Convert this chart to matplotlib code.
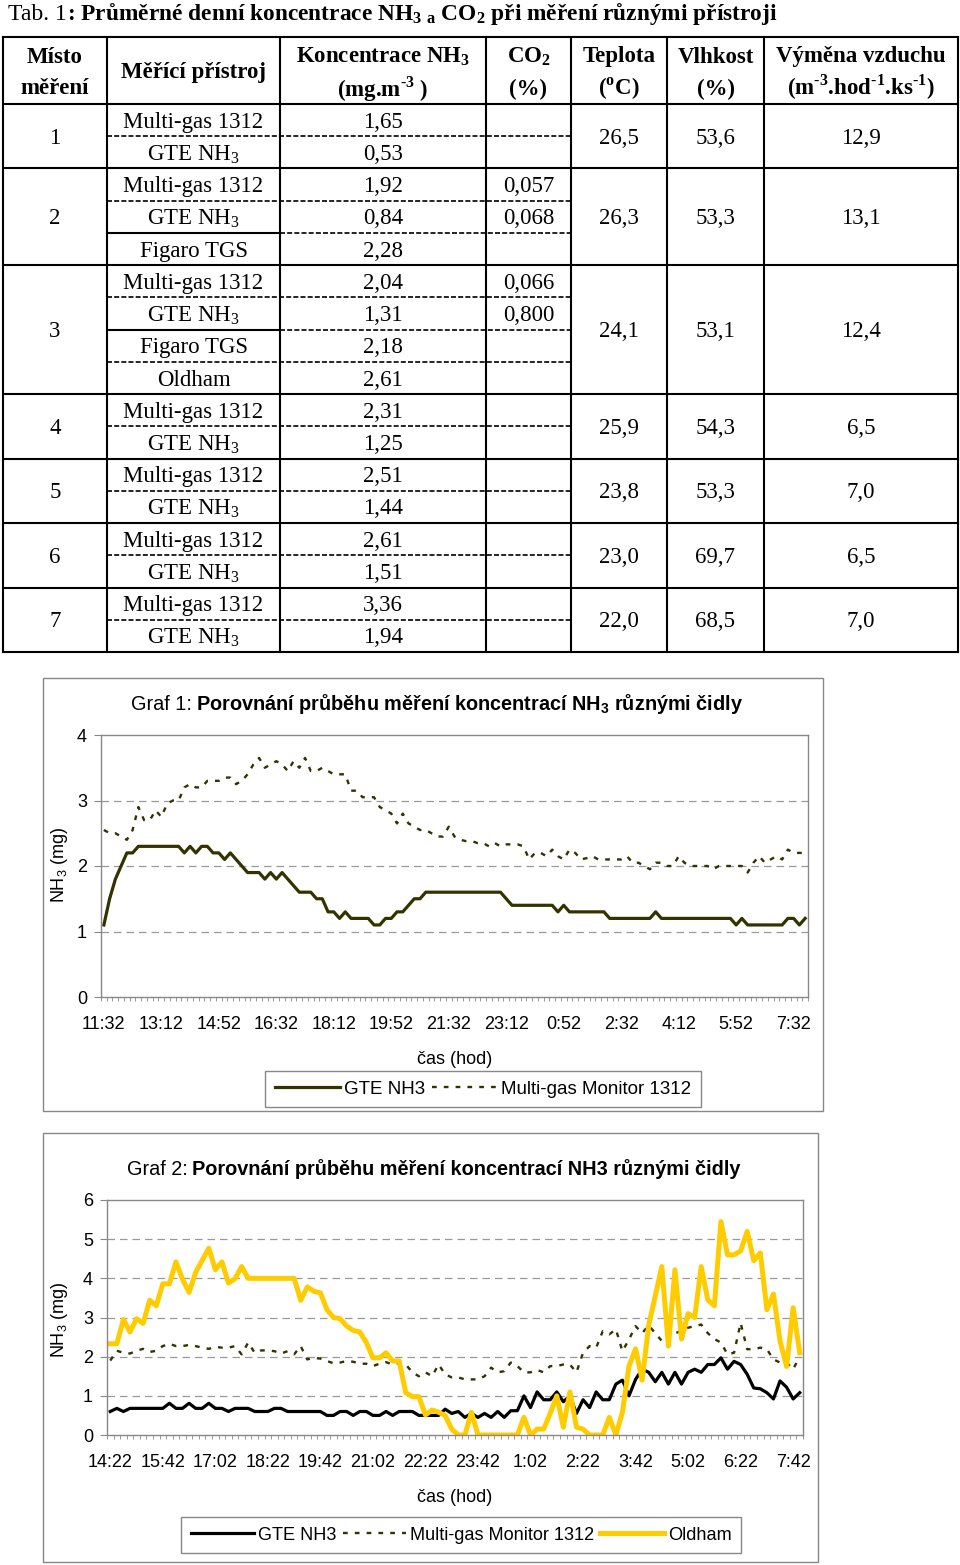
import matplotlib
matplotlib.use("Agg")
import matplotlib.pyplot as plt
from matplotlib.patches import Rectangle
import numpy as np

# ---- table data (Tab. 1) ----
places = ["1", "2", "3", "4", "5", "6", "7"]
devices = [
    ["Multi-gas 1312", "GTE NH3"],
    ["Multi-gas 1312", "GTE NH3", "Figaro TGS"],
    ["Multi-gas 1312", "GTE NH3", "Figaro TGS", "Oldham"],
    ["Multi-gas 1312", "GTE NH3"],
    ["Multi-gas 1312", "GTE NH3"],
    ["Multi-gas 1312", "GTE NH3"],
    ["Multi-gas 1312", "GTE NH3"],
]
nh3_conc = [
    ["1,65", "0,53"],
    ["1,92", "0,84", "2,28"],
    ["2,04", "1,31", "2,18", "2,61"],
    ["2,31", "1,25"],
    ["2,51", "1,44"],
    ["2,61", "1,51"],
    ["3,36", "1,94"],
]
co2 = [
    ["", ""],
    ["0,057", "0,068", ""],
    ["0,066", "0,800", "", ""],
    ["", ""],
    ["", ""],
    ["", ""],
    ["", ""],
]
teplota = ["26,5", "26,3", "24,1", "25,9", "23,8", "23,0", "22,0"]
vlhkost = ["53,6", "53,3", "53,1", "54,3", "53,3", "69,7", "68,5"]
vymena = ["12,9", "13,1", "12,4", "6,5", "7,0", "6,5", "7,0"]

# ---- Graf 1 data (10 min steps from 11:32) ----
labels1 = ["11:32", "13:12", "14:52", "16:32", "18:12", "19:52", "21:32",
           "23:12", "0:52", "2:32", "4:12", "5:52", "7:32"]
gte1 = [1.1, 1.5, 1.8, 2.0, 2.2, 2.2, 2.3, 2.3, 2.3, 2.3,
        2.3, 2.3, 2.3, 2.3, 2.2, 2.3, 2.2, 2.3, 2.3, 2.2,
        2.2, 2.1, 2.2, 2.1, 2.0, 1.9, 1.9, 1.9, 1.8, 1.9,
        1.8, 1.9, 1.8, 1.7, 1.6, 1.6, 1.6, 1.5, 1.5, 1.3,
        1.3, 1.2, 1.3, 1.2, 1.2, 1.2, 1.2, 1.1, 1.1, 1.2,
        1.2, 1.3, 1.3, 1.4, 1.5, 1.5, 1.6, 1.6, 1.6, 1.6,
        1.6, 1.6, 1.6, 1.6, 1.6, 1.6, 1.6, 1.6, 1.6, 1.6,
        1.5, 1.4, 1.4, 1.4, 1.4, 1.4, 1.4, 1.4, 1.4, 1.3,
        1.4, 1.3, 1.3, 1.3, 1.3, 1.3, 1.3, 1.3, 1.2, 1.2,
        1.2, 1.2, 1.2, 1.2, 1.2, 1.2, 1.3, 1.2, 1.2, 1.2,
        1.2, 1.2, 1.2, 1.2, 1.2, 1.2, 1.2, 1.2, 1.2, 1.2,
        1.1, 1.2, 1.1, 1.1, 1.1, 1.1, 1.1, 1.1, 1.1, 1.2,
        1.2, 1.1, 1.2]
multi1 = [2.55, 2.5, 2.5, 2.45, 2.4, 2.55, 2.9, 2.7, 2.7, 2.85,
          2.75, 2.95, 3.0, 3.0, 3.2, 3.25, 3.2, 3.2, 3.3, 3.3,
          3.3, 3.35, 3.35, 3.25, 3.3, 3.4, 3.55, 3.65, 3.5, 3.55,
          3.6, 3.55, 3.45, 3.6, 3.5, 3.65, 3.45, 3.45, 3.5, 3.45,
          3.4, 3.4, 3.4, 3.15, 3.15, 3.05, 3.05, 3.05, 2.9, 2.85,
          2.8, 2.65, 2.8, 2.65, 2.6, 2.55, 2.55, 2.5, 2.45, 2.45,
          2.6, 2.45, 2.4, 2.38, 2.38, 2.35, 2.35, 2.3, 2.35, 2.3,
          2.33, 2.33, 2.33, 2.3, 2.1, 2.2, 2.2, 2.15, 2.25, 2.15,
          2.1, 2.25, 2.2, 2.1, 2.12, 2.15, 2.1, 2.1, 2.1, 2.1,
          2.1, 2.15, 2.05, 2.05, 2.0, 1.95, 2.05, 2.05, 2.0, 2.0,
          2.15, 2.05, 2.0, 2.0, 2.0, 2.0, 1.95, 2.0, 2.0, 2.0,
          2.0, 2.0, 1.9, 2.05, 2.15, 2.05, 2.1, 2.15, 2.1, 2.25,
          2.2, 2.2, 2.2]

# ---- Graf 2 data (10 min steps from 14:22) ----
labels2 = ["14:22", "15:42", "17:02", "18:22", "19:42", "21:02", "22:22",
           "23:42", "1:02", "2:22", "3:42", "5:02", "6:22", "7:42"]
gte2 = [0.6, 0.68, 0.6, 0.68, 0.68, 0.68, 0.68, 0.68, 0.68, 0.81,
        0.68, 0.68, 0.81, 0.68, 0.68, 0.81, 0.68, 0.68, 0.6, 0.68,
        0.68, 0.68, 0.6, 0.6, 0.6, 0.68, 0.68, 0.6, 0.6, 0.6,
        0.6, 0.6, 0.6, 0.5, 0.5, 0.6, 0.6, 0.5, 0.6, 0.6,
        0.5, 0.5, 0.6, 0.5, 0.6, 0.6, 0.6, 0.5, 0.5, 0.5,
        0.5, 0.66, 0.55, 0.6, 0.45, 0.55, 0.45, 0.55, 0.45, 0.6,
        0.45, 0.62, 0.62, 1.0, 0.7, 1.1, 0.9, 0.9, 1.1, 0.85,
        1.0, 0.55, 0.9, 0.7, 1.1, 0.9, 0.9, 1.3, 1.4, 1.0,
        1.42, 1.68, 1.6, 1.36, 1.6, 1.3, 1.6, 1.3, 1.6, 1.68,
        1.6, 1.8, 1.8, 1.97, 1.68, 1.88, 1.8, 1.55, 1.2, 1.18,
        1.08, 0.92, 1.38, 1.22, 0.92, 1.08]
multi2 = [1.9, 2.15, 2.1, 2.08, 2.15, 2.2, 2.12, 2.15, 2.27, 2.33,
          2.27, 2.27, 2.3, 2.27, 2.23, 2.2, 2.25, 2.23, 2.23, 2.27,
          2.06, 2.36, 2.1, 2.16, 2.16, 2.14, 2.08, 2.14, 2.06, 2.27,
          1.93, 1.97, 1.95, 1.89, 1.83, 1.85, 1.89, 1.87, 1.82, 1.82,
          1.76, 1.82, 1.86, 1.8, 1.84, 1.8, 1.6, 1.5, 1.6, 1.5,
          1.8, 1.55, 1.47, 1.47, 1.42, 1.42, 1.42, 1.5, 1.72, 1.6,
          1.63, 1.85, 1.76, 1.6, 1.6, 1.66, 1.6, 1.76, 1.76, 1.8,
          1.8, 1.6, 2.1, 2.27, 2.23, 2.65, 2.57, 2.7, 2.14, 2.44,
          2.78, 2.6, 2.8, 2.6, 2.4, 2.6, 2.6, 2.65, 2.74, 2.78,
          2.82, 2.6, 2.45, 2.36, 2.06, 2.1, 2.86, 2.19, 2.19, 2.23,
          2.19, 1.93, 1.85, 1.85, 1.68, 2.0]
oldham2 = [2.33, 2.33, 2.95, 2.63, 2.97, 2.85, 3.44, 3.3, 3.86, 3.86,
           4.42, 3.98, 3.64, 4.15, 4.46, 4.77, 4.22, 4.42, 3.88, 3.99,
           4.3, 4.0, 4.0, 4.0, 4.0, 4.0, 4.0, 4.0, 4.0, 3.44,
           3.78, 3.67, 3.63, 3.2, 3.0, 2.97, 2.78, 2.67, 2.63, 2.36,
           1.97, 1.97, 2.1, 1.89, 1.89, 1.08, 0.98, 0.98, 0.51, 0.64,
           0.58, 0.5, 0.15, 0.0, 0.0, 0.58, 0.0, 0.0, 0.0, 0.0,
           0.0, 0.0, 0.0, 0.45, 0.0, 0.15, 0.15, 0.55, 1.0, 0.2,
           1.1, 0.2, 0.15, 0.0, 0.0, 0.0, 0.45, 0.0, 0.58, 1.76,
           2.2, 1.4, 2.8, 3.55, 4.3, 2.27, 4.22, 2.45, 3.1, 3.0,
           4.3, 3.45, 3.3, 5.45, 4.6, 4.6, 4.7, 5.2, 4.45, 4.65,
           3.2, 3.6, 2.4, 1.75, 3.25, 2.1]

W, H = 960, 1565
SERIF = "Liberation Serif"
SANS = "Liberation Sans"
GRAY = "#888888"
OLIVE = "#333300"
HY = "\u2010"  # short hyphen for the unit exponents

fig = plt.figure(figsize=(W / 100, H / 100), dpi=100)
bg = fig.add_axes([0, 0, 1, 1])
bg.set_xlim(0, W)
bg.set_ylim(H, 0)
bg.axis("off")


def sub(s):
    # subscript 3 in NH3 using the text's own font
    return s.replace("NH3", r"NH$_\mathregular{3}$")


def sup(s):
    return r"$^\mathregular{" + s + "}$"


def px_axes(l, t, r, b):
    return fig.add_axes([l / W, 1 - b / H, (r - l) / W, (b - t) / H])


# ---- table ----
bg.text(67, 20, "Tab. 1", ha="right", va="baseline", family=SERIF, fontsize=17)
bg.text(67, 20, r": Průměrné denní koncentrace NH$_\mathregular{3\ a}$ CO$_\mathregular{2}$ při měření různými přístroji",
        ha="left", va="baseline", family=SERIF, fontsize=16.8, weight="bold")

cols = [3, 107, 280, 486, 571, 667, 764, 958]
top, head_b, bottom = 37, 104, 652
n_sub = sum(len(d) for d in devices)
rh = (bottom - head_b) / n_sub
lw_main = 1.5

for x in cols:
    bg.plot([x, x], [top, bottom], color="black", lw=lw_main, solid_capstyle="projecting")
bg.plot([cols[0], cols[-1]], [top, top], color="black", lw=lw_main)
bg.plot([cols[0], cols[-1]], [head_b, head_b], color="black", lw=lw_main)

hdr = dict(family=SERIF, fontsize=16.5, weight="bold", ha="center", va="baseline")
cx = [(cols[i] + cols[i + 1]) / 2 for i in range(len(cols) - 1)]
bg.text(cx[0], 63, "Místo", **hdr)
bg.text(cx[0], 94, "měření", **hdr)
bg.text(cx[1], 78, "Měřící přístroj", **hdr)
bg.text(cx[2], 62, sub("Koncentrace NH3"), **hdr)
bg.text(cx[2], 96, "(mg.m" + sup(HY + "3") + " )", **hdr)
bg.text(cx[3], 62, r"CO$_\mathregular{2}$", **hdr)
bg.text(cx[3], 95, "(%)", **hdr)
bg.text(cx[4], 62, "Teplota", **hdr)
bg.text(cx[4], 95, "(" + sup("o") + "C)", **hdr)
bg.text(cx[5], 63, "Vlhkost", **hdr)
bg.text(cx[5], 95, "(%)", **hdr)
bg.text(cx[6], 62, "Výměna vzduchu", **hdr)
bg.text(cx[6], 95, "(m" + sup(HY + "3") + ".hod" + sup(HY + "1") + ".ks" + sup(HY + "1") + ")", **hdr)

body = dict(family=SERIF, fontsize=16.5, ha="center", va="baseline")
y0 = head_b
for g, devs in enumerate(devices):
    n = len(devs)
    gy1 = y0 + n * rh
    for k in range(n):
        c = y0 + (k + 0.5) * rh
        bg.text(cx[1], c + 7.5, sub(devs[k]), **body)
        bg.text(cx[2], c + 7.5, nh3_conc[g][k], **body)
        if co2[g][k]:
            bg.text(cx[3], c + 7.5, co2[g][k], **body)
        if k > 0:
            ly = y0 + k * rh
            if devs[k] == "Figaro TGS":
                bg.plot([cols[1], cols[2]], [ly, ly], color="black", lw=lw_main)
                bg.plot([cols[2], cols[4]], [ly, ly], color="black", lw=1.2, ls=(0, (3, 1.3)))
            else:
                bg.plot([cols[1], cols[4]], [ly, ly], color="black", lw=1.2, ls=(0, (3, 1.3)))
    gc = (y0 + gy1) / 2
    bg.text(cx[0], gc + 7.5, places[g], **body)
    bg.text(cx[4], gc + 7.5, teplota[g], **body)
    bg.text(cx[5], gc + 7.5, vlhkost[g], **body)
    bg.text(cx[6], gc + 7.5, vymena[g], **body)
    bg.plot([cols[0], cols[-1]], [gy1, gy1], color="black", lw=lw_main)
    y0 = gy1


# ---- charts ----
def chart(frame, plot_box, title_num, title_txt, title_x, ymax, labels, step,
          series, ylab_y, xlab_y, legend_c, leg_size):
    bg.add_patch(Rectangle((frame[0], frame[1]), frame[2] - frame[0], frame[3] - frame[1],
                           fill=False, edgecolor=GRAY, lw=1))
    l, t, r, b = plot_box
    bg.text(title_x, t - 25, title_num, ha="right", va="baseline", family=SANS, fontsize=14.3)
    bg.text(title_x + 4, t - 25, title_txt, ha="left", va="baseline", family=SANS,
            fontsize=14.3, weight="bold")
    bg.text(60, ylab_y, r"NH$_\mathregular{3}$ (mg)", rotation=90, ha="center", va="center",
            family=SANS, fontsize=13)
    bg.text((l + r) / 2, xlab_y, "čas (hod)", ha="center", va="center", family=SANS, fontsize=13)

    ax = px_axes(l, t, r, b)
    n = len(series[0][1])
    x = np.arange(n)
    for lab, vals, kw in series:
        ax.plot(x, vals, label=lab, **kw)
    ax.set_xlim(-0.5, n - 0.5)
    ax.set_ylim(0, ymax)
    for v in range(1, ymax):
        ax.axhline(v, color="#999999", lw=0.9, ls=(0, (6, 4)), zorder=0)
    ax.set_yticks(range(ymax + 1))
    ax.set_xticks(x[::step][:len(labels)])
    ax.set_xticklabels(labels)
    ax.set_xticks(np.arange(-0.5, n), minor=True)
    ax.tick_params(axis="x", which="major", length=0, pad=14, labelsize=13)
    ax.tick_params(axis="x", which="minor", length=3, color=GRAY)
    ax.tick_params(axis="y", length=5, color=GRAY, pad=5, labelsize=13)
    for lab in ax.get_xticklabels() + ax.get_yticklabels():
        lab.set_family(SANS)
    for s in ax.spines.values():
        s.set_color(GRAY)
        s.set_linewidth(1)
    leg = ax.legend(loc="center", bbox_to_anchor=(legend_c[0] / W, 1 - legend_c[1] / H),
                    bbox_transform=fig.transFigure, ncol=len(series), frameon=True,
                    fancybox=False, framealpha=1, edgecolor=GRAY, borderpad=0.5,
                    handlelength=3.5, handletextpad=0.2, columnspacing=0.35,
                    prop={"family": SANS, "size": leg_size})
    leg.get_frame().set_linewidth(1)
    return ax


chart((43, 678, 823, 1111), (101, 735, 808, 997), "Graf 1:",
      sub("Porovnání průběhu měření koncentrací NH3 různými čidly"), 192, 4, labels1, 10,
      [("GTE NH3", gte1, dict(color=OLIVE, lw=2.3)),
       ("Multi-gas Monitor 1312", multi1, dict(color=OLIVE, lw=1.7, ls=(0, (2, 3))))],
      865, 1060, (483, 1089), 13.5)

chart((43, 1133, 818, 1562), (107, 1200, 803, 1435), "Graf 2:",
      "Porovnání průběhu měření koncentrací NH3 různými čidly", 188, 6, labels2, 8,
      [("GTE NH3", gte2, dict(color="black", lw=2.3)),
       ("Multi-gas Monitor 1312", multi2, dict(color=OLIVE, lw=1.7, ls=(0, (2, 3)))),
       ("Oldham", oldham2, dict(color="#FFCC00", lw=3.6))],
      1320, 1497, (461, 1535), 13.1)

fig.savefig("out.png", dpi=100)
